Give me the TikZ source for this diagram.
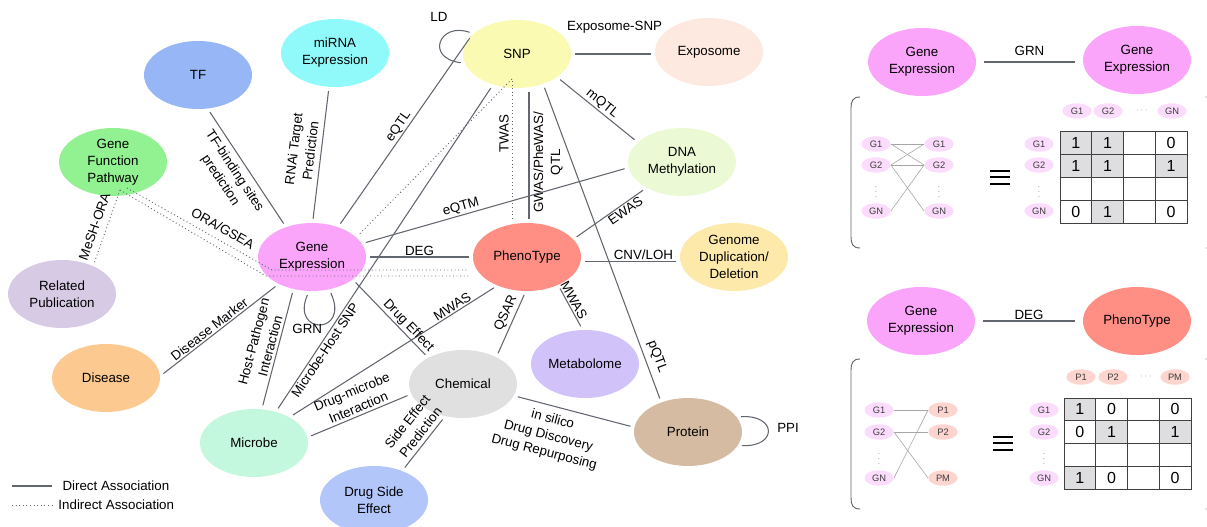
\documentclass[tikz,border=0pt]{standalone}
\usepackage{fontspec}
\setmainfont{Liberation Sans}
\usetikzlibrary{shapes.geometric}

\definecolor{linkgray}{RGB}{98,102,110}
\definecolor{tfblue}{RGB}{150,182,246}
\definecolor{mirnacyan}{RGB}{144,250,250}
\definecolor{gfpgreen}{RGB}{146,242,146}
\definecolor{pubpurple}{RGB}{214,202,228}
\definecolor{diseaseorange}{RGB}{252,202,144}
\definecolor{microbegreen}{RGB}{196,248,222}
\definecolor{dseblue}{RGB}{178,198,250}
\definecolor{gepink}{RGB}{250,164,250}
\definecolor{phenored}{RGB}{255,143,133}
\definecolor{chemgray}{RGB}{224,224,224}
\definecolor{metabviolet}{RGB}{210,194,250}
\definecolor{protbrown}{RGB}{213,187,161}
\definecolor{snpyellow}{RGB}{250,250,178}
\definecolor{expopeach}{RGB}{253,233,223}
\definecolor{dnagreen}{RGB}{235,250,213}
\definecolor{genomeyellow}{RGB}{253,233,170}
\definecolor{gpill}{RGB}{252,220,252}
\definecolor{ppill}{RGB}{253,212,206}
\definecolor{pilltext}{RGB}{60,60,60}
\definecolor{cellgray}{RGB}{222,222,224}

\tikzstyle{blob}=[ellipse,minimum width=81pt,minimum height=51pt,inner sep=0pt,align=center,font=\fontsize{10}{12.75}\selectfont]
\tikzstyle{link}=[draw=linkgray,line width=0.8pt,shorten <=3pt,shorten >=3pt]
\tikzstyle{hint}=[draw=linkgray,line width=0.7pt,dotted,shorten <=0pt,shorten >=3pt]
\tikzstyle{tag}=[font=\fontsize{10}{12.75}\selectfont,inner sep=1pt,align=center]
\tikzstyle{pill}=[ellipse,minimum width=22pt,minimum height=11.5pt,inner sep=0pt,font=\fontsize{7}{8}\selectfont,text=pilltext]
\tikzstyle{wire}=[draw=gray!70,line width=0.45pt]
\tikzstyle{dotsmark}=[inner sep=0pt,font=\fontsize{6}{6}\selectfont,text=gray]
\tikzstyle{cellnum}=[inner sep=0pt,font=\fontsize{12}{12}\selectfont]
\tikzstyle{cellline}=[draw=black!75,line width=0.6pt]
\tikzstyle{bracketline}=[draw=gray!80!black,line width=0.7pt]

\begin{document}
\begin{tikzpicture}[x=0.75pt,y=0.75pt]
\useasboundingbox (0,0) rectangle (1207,-527);

\node[blob,fill=tfblue] (tf) at (198,-75) {TF};
\node[blob,fill=mirnacyan] (mirna) at (335,-53) {miRNA\\Expression};
\node[blob,fill=gfpgreen] (gfp) at (113,-162) {Gene\\Function\\Pathway};
\node[blob,fill=pubpurple] (pub) at (62,-294) {Related\\Publication};
\node[blob,fill=diseaseorange] (disease) at (106,-378) {Disease};
\node[blob,fill=microbegreen] (microbe) at (254,-443) {Microbe};
\node[blob,fill=dseblue] (dse) at (374,-500) {Drug Side\\Effect};
\node[blob,fill=gepink] (ge) at (312,-257) {Gene\\Expression};
\node[blob,fill=phenored] (pheno) at (527,-257) {PhenoType};
\node[blob,fill=chemgray] (chem) at (463,-384) {Chemical};
\node[blob,fill=metabviolet] (metab) at (585,-364) {Metabolome};
\node[blob,fill=protbrown] (prot) at (688,-432) {Protein};
\node[blob,fill=snpyellow] (snp) at (517,-54) {SNP};
\node[blob,fill=expopeach] (expo) at (709,-52) {Exposome};
\node[blob,fill=dnagreen] (dna) at (682,-162) {DNA\\Methylation};
\node[blob,fill=genomeyellow] (genome) at (734,-257) {Genome\\Duplication/\\Deletion};

\coordinate (snpdot) at ([shift={(-5,-25)}]snp.center);
\coordinate (gfpa) at ([shift={(14,-26)}]gfp.center);
\coordinate (gfpb) at ([shift={(7,-28)}]gfp.center);
\coordinate (oraa) at (272,-270);
\coordinate (orab) at (266,-276);
\coordinate (gw) at ([xshift=1.5pt]pheno.north);

\draw[link] (tf.-74) -- node[tag,sloped,pos=0.47,below=3pt]{TF-binding sites\\prediction} (ge.131);
\draw[link] (mirna.-100) -- node[tag,sloped,pos=0.48,above=3pt]{RNAi Target\\Prediction} (ge.89);
\draw[link] (snp.157) -- node[tag,sloped,midway,above]{eQTL} (ge.49);
\draw[hint] (snpdot) -- (ge.24);
\draw[hint,shorten <=3pt,shorten >=0pt] (snpdot |- pheno.north) -- node[tag,sloped,pos=0.62,above=1pt]{TWAS} (snpdot);
\draw[link] (gw) -- node[tag,sloped,pos=0.45,below=2pt]{GWAS/PheWAS/\\QTL} (gw |- snp.south);
\draw[link] (snp.-49) -- node[tag,sloped,pos=0.87,above=3pt]{pQTL} (prot.132);
\draw[link] (snp.-30) -- node[tag,sloped,midway,above]{mQTL} (dna.156);
\draw[link] (snp.east) -- node[tag,pos=0.52,above=14pt]{Exposome-SNP} (snp.east -| expo.west);
\draw[link] (snp.155) .. controls +(-34,12) and +(-40,5) .. node[tag,pos=0.3,above=8pt,xshift=-7.5pt]{LD} (snp.190);
\draw[link] (dna.186) -- node[tag,sloped,pos=0.62,above]{eQTM} (ge.15);
\draw[link] (dna.216) -- node[tag,sloped,pos=0.34,below]{EWAS} (pheno.21);
\draw[link] (ge.east) -- node[tag,midway,above]{DEG} (pheno.west);
\draw[hint] (gfpa) -- node[tag,sloped,pos=0.62,above=4pt]{ORA/GSEA} (oraa) -- (oraa -| pheno.west);
\draw[hint] (gfpb) -- (orab) -- (orab -| pheno.west);
\draw[hint] (gfpb) -- node[tag,sloped,pos=0.53,above=4pt]{MeSH-ORA} (pub.42);
\draw[link] (ge.-95) .. controls +(-19,-44) and +(21,-46) .. node[tag,pos=0.35,below=1pt,xshift=-3pt]{GRN} (ge.-62);
\draw[link] (disease.2) -- node[tag,sloped,pos=0.45,above]{Disease Marker} (ge.219);
\draw[link] (microbe.77) -- node[tag,sloped,pos=0.51,above=1pt]{Host-Pathogen\\Interaction} (ge.240);
\draw[link] (microbe.55) -- node[tag,sloped,pos=0.2,below]{Microbe-Host SNP} (snp.-128);
\draw[link] (microbe.36) -- node[tag,sloped,pos=0.8,above]{MWAS} (pheno.224);
\draw[link] (microbe.6) -- node[tag,sloped,pos=0.52,above=1pt]{Drug-microbe\\Interaction} (chem.191);
\draw[link] (chem.241) -- node[tag,sloped,pos=0.4,above=2pt]{Side Effect\\Prediction} (dse.46);
\draw[link] (ge.-29) -- node[tag,sloped,pos=0.66,above]{Drug Effect} (chem.143);
\draw[link] (pheno.268) -- node[tag,sloped,pos=0.39,above=1pt]{QSAR} (chem.39);
\draw[link] (pheno.-42) -- node[tag,sloped,pos=0.41,above]{MWAS} (metab.94);
\draw[link] (pheno.-5) -- node[tag,pos=0.63,above]{CNV/LOH} (genome.185);
\draw[link] (chem.-13) -- node[tag,sloped,pos=0.35,below=4pt]{in silico\\Drug Discovery\\Drug Repurposing} (prot.175);
\draw[link] (prot.17) .. controls +(40,3) and +(40,-2) .. node[tag,midway,right=6pt,yshift=2pt]{PPI} (prot.-15);

\coordinate (lga) at (12,-486);
\coordinate (lgb) at (12,-505);
\draw[link,shorten <=0pt,shorten >=0pt] (lga) -- ++(40,0) node[tag,right=6.5pt]{Direct Association};
\draw[hint,shorten >=0pt] (lgb) -- ++(40,0) node[tag,right=3.5pt]{Indirect Association};

\node[blob,fill=gepink] (gea) at (922,-62) {Gene\\Expression};
\node[blob,fill=gepink] (geb) at (1137,-60) {Gene\\Expression};
\draw[link,shorten <=6pt,shorten >=6pt] (gea.east) -- node[tag,midway,above=3pt]{GRN} (gea.east -| geb.west);
\draw[bracketline] (860,-97) .. controls (853,-97) and (851,-101) .. (851,-108) -- (851,-237) .. controls (851,-244) and (853,-248) .. (860,-248);
\fill[gray] (1206,-97) circle (0.6);
\fill[gray] (1206,-248) circle (0.6);

\foreach \n/\y in {1/144,2/165,N/211} {
  \node[pill,fill=gpill] (ga\n) at (876,-\y) {G\n};
  \node[pill,fill=gpill] (gb\n) at (939,-\y) {G\n};
  \node[pill,fill=gpill] (ra\n) at (1039,-\y) {G\n};
}
\node[dotsmark] (gad) at (876,-188) {$\vdots$};
\node[dotsmark] (gbd) at (939,-188) {$\vdots$};
\node[dotsmark] (rad) at (1039,-188) {$\vdots$};
\foreach \a/\b in {1/1,1/2,2/1,2/2,2/N,N/2}
  \draw[wire] (ga\a.east) -- (gb\b.west);
\node[pill,fill=gpill] (ha1) at (1077,-111) {G1};
\node[pill,fill=gpill] (ha2) at (1108,-111) {G2};
\node[dotsmark] (had) at (1142,-111) {$\cdots$};
\node[pill,fill=gpill] (haN) at (1172,-111) {GN};

\coordinate (eqa) at (1000,-177.5);
\foreach \dy in {6.5,0,-6.5}
  \draw[line width=1.5pt] ([shift={(-10,\dy)}]eqa) -- ([shift={(10,\dy)}]eqa);

\foreach \c/\r in {1/1,2/1,1/2,2/2,4/2,2/4}
  \fill[cellgray] ({1060+(\c-1)*31.75},{-131-(\r-1)*23}) rectangle +(31.75,-23);
\draw[cellline] (1060,-131) rectangle (1187,-223);
\foreach \i in {1,2,3} {
  \draw[cellline] ({1060+\i*31.75},-131) -- +(0,-92);
  \draw[cellline] (1060,{-131-\i*23}) -- +(127,0);
}
\foreach \c/\r/\v in {1/1/1,2/1/1,4/1/0,1/2/1,2/2/1,4/2/1,1/4/0,2/4/1,4/4/0}
  \node[cellnum] (ma\c\r) at ({1060+(\c-0.5)*31.75},{-131-(\r-0.5)*23}) {\v};

\node[blob,fill=gepink] (gec) at (921,-321) {Gene\\Expression};
\node[blob,fill=phenored] (phc) at (1137,-321) {PhenoType};
\draw[link,shorten <=6pt,shorten >=6pt] (gec.east) -- node[tag,midway,above]{DEG} (phc.west);
\draw[bracketline] (860,-359) .. controls (853,-359) and (851,-363) .. (851,-370) -- (851,-498) .. controls (851,-505) and (853,-509) .. (860,-509);
\fill[gray] (1206,-359) circle (0.6);
\fill[gray] (1206,-509) circle (0.6);

\foreach \n/\y in {1/410,2/432,N/478} {
  \node[pill,fill=gpill] (gc\n) at (879,-\y) {G\n};
  \node[pill,fill=gpill] (rc\n) at (1044,-\y) {G\n};
}
\foreach \n/\y in {1/410,2/432,M/478}
  \node[pill,fill=ppill] (pc\n) at (943,-\y) {P\n};
\node[dotsmark] (gcd) at (879,-455) {$\vdots$};
\node[dotsmark] (rcd) at (1044,-455) {$\vdots$};
\foreach \a/\b in {1/1,2/2,2/M,N/1}
  \draw[wire] (gc\a.east) -- (pc\b.west);
\node[pill,fill=ppill] (hc1) at (1081,-377) {P1};
\node[pill,fill=ppill] (hc2) at (1113,-377) {P2};
\node[dotsmark] (hcd) at (1146,-377) {$\cdots$};
\node[pill,fill=ppill] (hcM) at (1175,-377) {PM};

\coordinate (eqc) at (1003,-443);
\foreach \dy in {6.5,0,-6.5}
  \draw[line width=1.5pt] ([shift={(-10,\dy)}]eqc) -- ([shift={(10,\dy)}]eqc);

\foreach \c/\r in {1/1,2/2,4/2,1/4}
  \fill[cellgray] ({1064+(\c-1)*31.75},{-398-(\r-1)*22.75}) rectangle +(31.75,-22.75);
\draw[cellline] (1064,-398) rectangle (1191,-489);
\foreach \i in {1,2,3} {
  \draw[cellline] ({1064+\i*31.75},-398) -- +(0,-91);
  \draw[cellline] (1064,{-398-\i*22.75}) -- +(127,0);
}
\foreach \c/\r/\v in {1/1/1,2/1/0,4/1/0,1/2/0,2/2/1,4/2/1,1/4/1,2/4/0,4/4/0}
  \node[cellnum] (mc\c\r) at ({1064+(\c-0.5)*31.75},{-398-(\r-0.5)*22.75}) {\v};
\end{tikzpicture}
\end{document}
